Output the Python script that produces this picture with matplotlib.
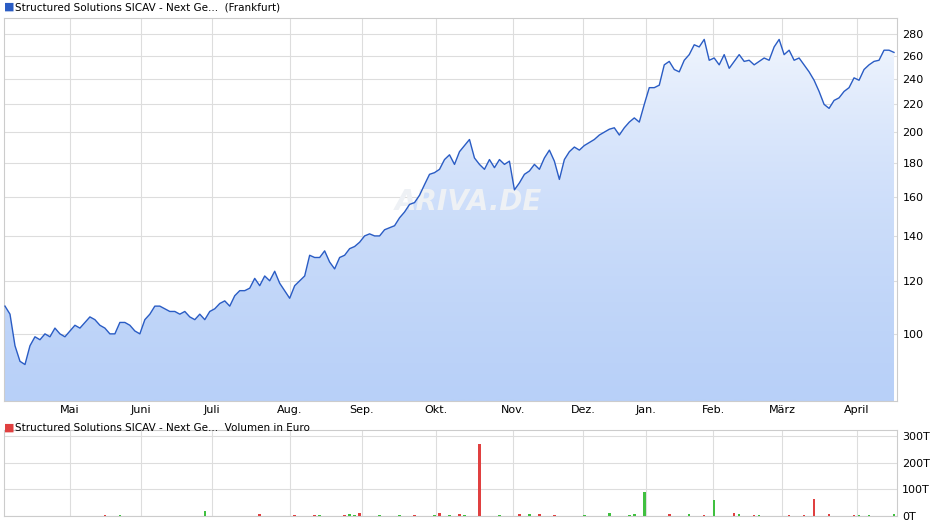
import numpy as np
import matplotlib
matplotlib.use("Agg")
import matplotlib.pyplot as plt
from matplotlib.colors import LinearSegmentedColormap

prices = [110,107,96,91,90,96,99,98,100,99,102,100,99,101,103,102,104,106,105,103,102,100,100,104,104,103,101,100,105,107,110,110,109,108,108,107,108,106,105,107,105,108,109,111,112,110,114,116,116,117,121,118,122,120,124,119,116,113,118,120,122,131,130,130,133,128,125,130,131,134,135,137,140,141,140,140,143,144,145,149,152,156,157,161,167,173,174,176,182,185,179,187,191,195,183,179,176,182,177,182,179,181,164,168,173,175,179,176,183,188,181,170,182,187,190,188,191,193,195,198,200,202,203,198,203,207,210,207,220,233,233,235,252,255,248,246,256,261,270,268,275,256,258,252,261,249,255,261,255,256,252,255,258,256,268,275,261,265,256,258,252,246,239,230,220,217,223,225,230,233,241,239,248,252,255,256,265,265,263]
n = len(prices)
vol_events = {20:4,23:3,40:20,51:8,58:4,62:5,63:3,68:4,69:6,70:3,71:12,75:3,79:3,82:5,86:3,87:12,89:4,91:8,92:4,95:270,99:4,103:6,105:8,107:8,110:5,116:4,121:12,125:4,126:6,128:90,133:6,137:6,140:3,142:60,146:10,147:8,150:3,151:4,157:3,160:4,162:65,165:8,170:3,171:3,173:2,178:8}
volume = [vol_events.get(i, 0) for i in range(n)]
red_idx = {20,51,58,62,68,71,82,87,91,95,103,107,110,133,140,146,150,157,160,162,165,170}

month_labels = ["Mai","Juni","Juli","Aug.","Sep.","Okt.","Nov.","Dez.","Jan.","Feb.","März","April"]
month_px = [69,140,211,289,361,435,513,583,646,713,782,857]
month_pos = [(p-4)/5 for p in month_px]
yticks = [100,120,140,160,180,200,220,240,260,280]
vticks = [0,100,200,300]
vlabels = ["0T","100T","200T","300T"]

fig = plt.figure(figsize=(9.4,5.26), dpi=100)
ax = fig.add_axes([4/940, 125/526, 893/940, 383/526])
x = np.arange(n)
xlim = (-0.2, (897-4)/5)
ylim = (79.4, 296)
ax.set_yscale('log')
ax.set_xlim(*xlim); ax.set_ylim(*ylim)
ax.set_axisbelow(True)
grad = np.linspace(0,1,256).reshape(-1,1)
cmap = LinearSegmentedColormap.from_list('g', ['#b8d0f8', '#f6f9fe'])
im = ax.imshow(grad, cmap=cmap, aspect='auto', extent=[xlim[0], xlim[1], ylim[0], ylim[1]], origin='lower', zorder=1)
poly = ax.fill_between(x, prices, ylim[0], color='none')
im.set_clip_path(poly.get_paths()[0], transform=ax.transData)
ax.plot(x, prices, color='#2a5cc4', lw=1, zorder=3)
ax.text(0.52, 0.52, "ARIVA.DE", transform=ax.transAxes, fontsize=20, color='#eef1f5', fontweight='bold', style='italic', ha='center', va='center', zorder=2)
ax.set_yticks(yticks); ax.set_yticklabels([str(t) for t in yticks])
ax.yaxis.set_minor_locator(matplotlib.ticker.NullLocator())
ax.set_xticks(month_pos); ax.set_xticklabels(month_labels)
ax.yaxis.tick_right()
ax.tick_params(length=0, labelsize=8, pad=4)
ax.tick_params(axis='x', pad=3)
ax.grid(True, color='#dddddd', lw=0.8, zorder=0)
for s in ax.spines.values(): s.set_color('#cccccc')
fig.text(4/940, 1-7/526, "\u25A0", color='#2a5cc4', fontsize=8, va='center')
fig.text(15/940, 1-7/526, "Structured Solutions SICAV - Next Ge...  (Frankfurt)", fontsize=7.5, va='center')

av = fig.add_axes([4/940, 10/526, 893/940, 86/526])
av.set_axisbelow(True)
cols = ['#e04040' if i in red_idx else '#40c040' for i in range(n)]
av.bar(x, volume, width=0.5, color=cols, linewidth=0, zorder=3)
av.set_xlim(*xlim); av.set_ylim(0, 322)
av.set_yticks(vticks); av.set_yticklabels(vlabels)
av.set_xticks(month_pos); av.set_xticklabels([])
av.yaxis.tick_right()
av.tick_params(length=0, labelsize=8)
av.grid(True, color='#dddddd', lw=0.8, zorder=0)
for s in av.spines.values(): s.set_color('#cccccc')
fig.text(4/940, 1-428/526, "\u25A0", color='#e04040', fontsize=8, va='center')
fig.text(15/940, 1-428/526, "Structured Solutions SICAV - Next Ge...  Volumen in Euro", fontsize=7.5, va='center')
fig.savefig("out.png", dpi=100)
